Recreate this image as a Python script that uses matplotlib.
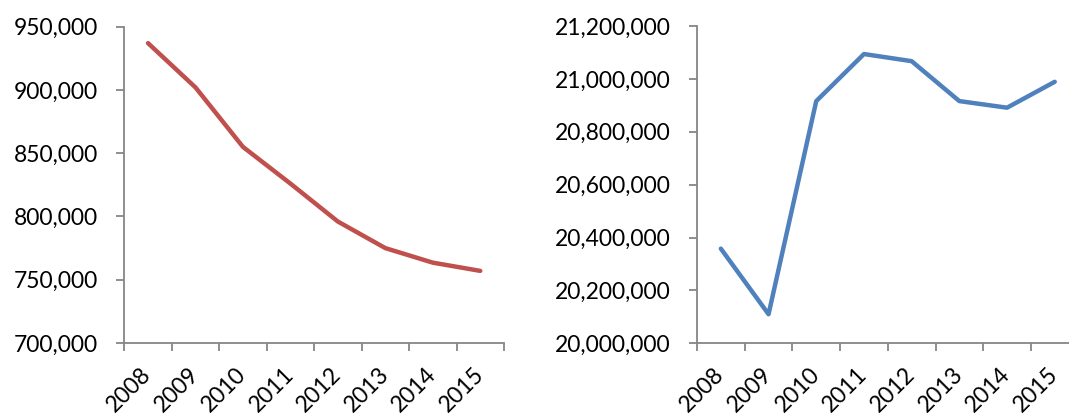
import matplotlib
matplotlib.use("Agg")
import matplotlib.pyplot as plt
from matplotlib.ticker import FuncFormatter, MultipleLocator

plt.rcParams['font.family'] = ['Lato', 'DejaVu Sans']

years = ['2008', '2009', '2010', '2011', '2012', '2013', '2014', '2015']
left_vals = [937000, 902000, 855000, 826000, 796000, 775000, 763500, 757000]
right_vals = [20358000, 20110000, 20916000, 21094000, 21067000, 20916000, 20891000, 20989000]

spine_col = '#868686'
fmt = FuncFormatter(lambda v, p: '{:,.0f}'.format(v))


def style_axes(ax, lo, hi, step):
    ax.set_xlim(0, len(years))
    ax.set_ylim(lo, hi)
    ax.yaxis.set_major_locator(MultipleLocator(step))
    ax.yaxis.set_major_formatter(fmt)
    for s in ['top', 'right']:
        ax.spines[s].set_visible(False)
    for s in ['left', 'bottom']:
        ax.spines[s].set_color(spine_col)
        ax.spines[s].set_linewidth(1.3)
    # category boundaries carry the tick marks, labels sit at centres
    ax.set_xticks(range(len(years) + 1))
    ax.set_xticklabels([])
    ax.set_xticks([i + 0.5 for i in range(len(years))], minor=True)
    ax.set_xticklabels(years, minor=True, rotation=45, ha='right',
                       va='center', rotation_mode='anchor')
    ax.tick_params(axis='x', which='minor', length=0, pad=20, labelsize=16.5)
    ax.tick_params(axis='x', which='major', length=6, color=spine_col, width=1.3)
    ax.tick_params(axis='y', length=6, color=spine_col, width=1.3, labelsize=16.5, pad=13)


fig = plt.figure(figsize=(10.69, 4.17), dpi=100)
W, H = 1069.0, 417.0
ax1 = fig.add_axes([124.3 / W, 1 - 343 / H, (504 - 124.3) / W, (343 - 26.7) / H])
ax2 = fig.add_axes([697 / W, 1 - 343.3 / H, (1078.6 - 697) / W, (343.3 - 26) / H])

xs = [i + 0.5 for i in range(len(years))]
ax1.plot(xs, left_vals, color='#C0504D', lw=3.2, solid_capstyle='round', solid_joinstyle='round')
ax2.plot(xs, right_vals, color='#4F81BD', lw=3.2, solid_capstyle='round', solid_joinstyle='round')

style_axes(ax1, 700000, 950000, 50000)
style_axes(ax2, 20000000, 21200000, 200000)

fig.savefig('out.png', dpi=100)
